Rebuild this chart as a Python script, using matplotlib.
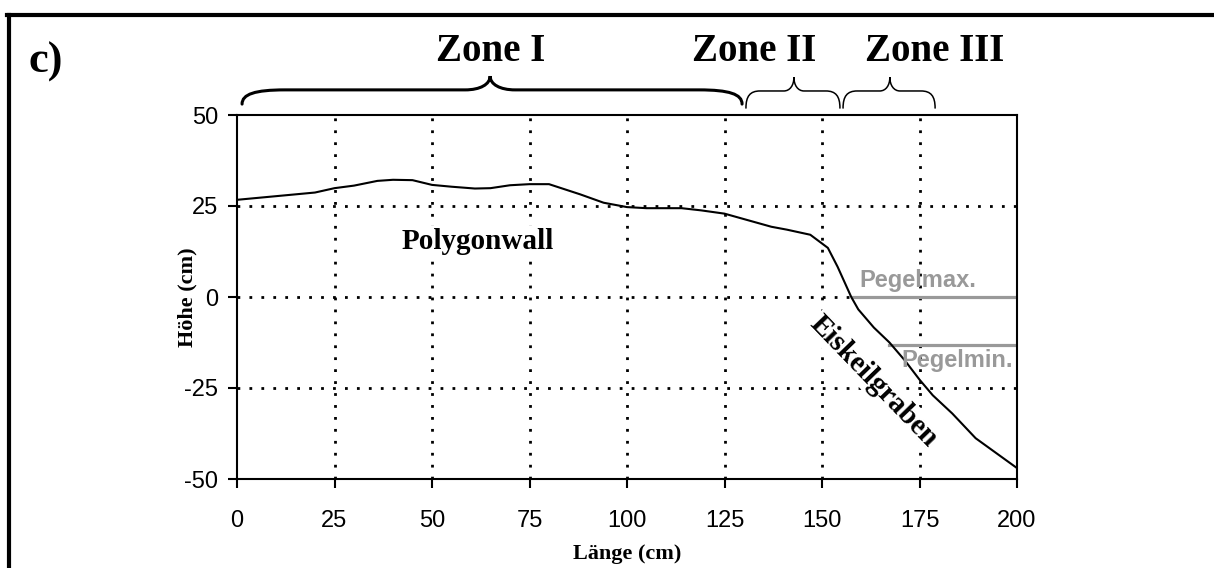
import matplotlib.pyplot as plt
from matplotlib.path import Path
from matplotlib.patches import PathPatch
from matplotlib.lines import Line2D

plt.rcParams['axes.unicode_minus'] = False

# Profil des Polygonwalls bis in den Eiskeilgraben
laenge = [0, 10, 20, 25, 30, 36, 40, 45, 50, 55, 61, 65, 70, 75, 80, 84, 88, 94,
          100, 105, 114, 119, 125, 131, 137, 141, 147, 151.5, 154, 157.5, 159.3,
          163.3, 167.3, 171.3, 175, 178.4, 183.4, 189.4, 200]
hoehe = [26.7, 27.7, 28.7, 29.9, 30.6, 31.9, 32.2, 32.1, 30.8, 30.3, 29.8, 29.9,
         30.7, 31.0, 31.0, 29.6, 28.2, 25.9, 24.7, 24.4, 24.4, 23.8, 22.9, 21.1,
         19.3, 18.5, 17.1, 13.5, 8.3, 0, -3.4, -8.4, -12.5, -17.5, -22.7, -27,
         -32, -38.8, -47]

pegel_max = 0
pegel_max_start = 157.7
pegel_min = -13.2
pegel_min_start = 167.2

x_ticks = [0, 25, 50, 75, 100, 125, 150, 175, 200]
y_ticks = [-50, -25, 0, 25, 50]

# Zonen: (Name, Anfang, Spitze, Ende)
zonen = [("Zone I", 1.3, 64.9, 129.5),
         ("Zone II", 130.5, 142.8, 154.6),
         ("Zone III", 155.4, 167.4, 179.0)]
zonen_text_x = [65.0, 132.7, 179.0]

serif = ['Liberation Serif', 'DejaVu Serif']
sans = ['Liberation Sans', 'DejaVu Sans']

fig = plt.figure(figsize=(12.14, 5.68), dpi=100)
ax = fig.add_axes([237 / 1214, 1 - 479 / 568, 780 / 1214, 364 / 568])

ax.plot(laenge, hoehe, color='black', lw=1.5, zorder=3)
ax.plot([pegel_max_start, 200], [pegel_max, pegel_max], color='#999999', lw=2.3, zorder=2)
ax.plot([pegel_min_start, 200], [pegel_min, pegel_min], color='#999999', lw=2.3, zorder=2)

ax.set_xlim(0, 200)
ax.set_ylim(-50, 50)
ax.set_xticks(x_ticks)
ax.set_yticks(y_ticks)
ax.grid(True, color='black', lw=2, linestyle=(0, (1, 3.3)))
# keine Gitterlinien auf dem Rahmen
for gl in (ax.get_xgridlines()[0], ax.get_xgridlines()[-1],
           ax.get_ygridlines()[0], ax.get_ygridlines()[-1]):
    gl.set_visible(False)
for s in ax.spines.values():
    s.set_linewidth(1.5)
ax.tick_params(axis='both', direction='out', length=6.5, width=1.5)
ax.tick_params(axis='x', pad=16)
ax.tick_params(axis='y', pad=7)
for lab in ax.get_xticklabels() + ax.get_yticklabels():
    lab.set_fontfamily(sans)
    lab.set_fontsize(17)

ax.text(61.7, 13.2, "Polygonwall", family=serif, fontweight='bold', fontsize=21,
        ha='center', va='baseline', zorder=4,
        bbox=dict(facecolor='white', edgecolor='none', pad=1))
ax.text(163.3, -23.1, "Eiskeilgraben", family=serif, fontweight='bold', fontsize=21,
        ha='center', va='center', rotation=-46, rotation_mode='anchor', zorder=4,
        bbox=dict(facecolor='white', edgecolor='none', pad=1))
ax.text(159.7, 2.7, "Pegelmax.", family=sans, fontweight='bold', fontsize=17,
        color='#999999', ha='left', va='baseline')
ax.text(170.3, -19.2, "Pegelmin.", family=sans, fontweight='bold', fontsize=17,
        color='#999999', ha='left', va='baseline')


def klammer(ax, x0, xm, x1, y0, y1, y2, r_end, r_tip, lw):
    verts = [(x0, y0),
             (x0, y0 + (y1 - y0) * 0.7), (x0 + r_end * 0.3, y1), (x0 + r_end, y1),
             (xm - r_tip, y1),
             (xm - r_tip * 0.4, y1), (xm, y1 + (y2 - y1) * 0.4), (xm, y2),
             (xm, y1 + (y2 - y1) * 0.4), (xm + r_tip * 0.4, y1), (xm + r_tip, y1),
             (x1 - r_end, y1),
             (x1 - r_end * 0.3, y1), (x1, y0 + (y1 - y0) * 0.7), (x1, y0)]
    codes = [Path.MOVETO] + [Path.CURVE4] * 3 + [Path.LINETO] + [Path.CURVE4] * 6 \
        + [Path.LINETO] + [Path.CURVE4] * 3
    ax.add_patch(PathPatch(Path(verts, codes), fill=False, lw=lw, color='black',
                           clip_on=False, capstyle='round'))


for i, (name, a, m, e) in enumerate(zonen):
    if i == 0:
        klammer(ax, a, m, e, 53.0, 56.9, 60.7, 11, 6.4, 2.2)
    else:
        klammer(ax, a, m, e, 51.9, 56.6, 60.4, 3.6, 2.6, 1.1)
    ax.text(zonen_text_x[i], 64.8, name, family=serif, fontweight='bold', fontsize=28,
            ha='center', va='baseline', clip_on=False)

fig.text(627 / 1214, 1 - 554 / 568, "Länge (cm)", family=serif, fontweight='bold',
         fontsize=16, ha='center', va='center')
fig.text(187 / 1214, 1 - 297 / 568, "Höhe (cm)", family=serif, fontweight='bold',
         fontsize=16, ha='center', va='center', rotation=90)
fig.text(28 / 1214, 1 - 73 / 568, "c)", family=serif, fontweight='bold', fontsize=32,
         ha='left', va='baseline')

# Rahmen oben und links
fig.add_artist(Line2D([7 / 1214, 1], [1 - 15 / 568, 1 - 15 / 568], color='black', lw=3,
                      transform=fig.transFigure))
fig.add_artist(Line2D([9 / 1214, 9 / 1214], [0, 1 - 15 / 568], color='black', lw=3,
                      transform=fig.transFigure))

fig.savefig('out.png', dpi=100)
